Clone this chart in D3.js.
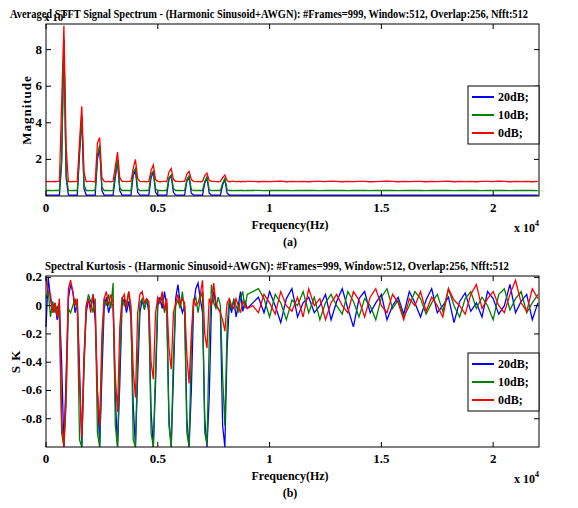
<!DOCTYPE html>
<html><head><meta charset="utf-8">
<script src="https://cdn.jsdelivr.net/npm/d3@7"></script>
<style>body{margin:0;background:#fff}</style>
</head><body><svg id="c" width="578" height="508" font-family="Liberation Serif, Times New Roman, serif" font-weight="bold"></svg>
<script>
// frequency grids (Hz)
var freqLow = d3.range(0, 9001, 100);
var freqHigh = d3.range(9250, 22001, 250);

// averaged STFT spectrum (magnitude, x 10^6)
var specRedLow = [0.78,0.8,0.79,0.8,0.78,0.8,0.8,
  5.1,9.3,2.7, 0.8,0.78,0.8,0.79,0.8, 3.0,4.9,1.3, 0.78,0.8,0.8,0.79,0.78,
  2.9,3.2,1.0, 0.8,0.79,0.8,0.78,0.8, 1.6,2.4,1.0, 0.8,0.8,0.79,0.8,0.8,
  1.5,2.0,0.95, 0.8,0.79,0.8,0.78,0.8, 1.4,1.7,0.9, 0.8,0.78,0.8,0.8,0.79,
  1.3,1.5,0.9, 0.8,0.8,0.79,0.8,0.8, 1.2,1.35,0.9, 0.8,0.79,0.8,0.78,0.8,
  1.1,1.25,0.85, 0.8,0.8,0.79,0.78,0.8, 1.0,1.15,0.85, 0.78,0.8,0.8,0.79,0.8,0.78,0.8,0.79,0.8];
var specGreenLow = [0.3,0.31,0.3,0.29,0.3,0.3,0.31,
  2.0,8.6,1.2, 0.3,0.29,0.3,0.31,0.3, 2.5,4.4,0.6, 0.3,0.3,0.29,0.3,0.31,
  2.2,2.8,0.5, 0.3,0.31,0.3,0.29,0.3, 1.2,2.0,0.45, 0.3,0.3,0.31,0.3,0.29,
  1.3,1.5,0.4, 0.3,0.29,0.3,0.3,0.31, 1.2,1.35,0.4, 0.3,0.3,0.29,0.31,0.3,
  1.0,1.15,0.4, 0.3,0.31,0.3,0.29,0.3, 0.9,1.1,0.35, 0.3,0.3,0.31,0.3,0.3,
  0.8,1.05,0.35, 0.29,0.3,0.3,0.31,0.3, 0.7,0.95,0.35, 0.3,0.3,0.29,0.3,0.31,0.3,0.3,0.29,0.3];
var specBlueLow = [0.05,0.05,0.05,0.05,0.05,0.05,0.05,
  1.8,8.5,1.0, 0.05,0.05,0.05,0.05,0.05, 2.3,4.3,0.4, 0.05,0.05,0.05,0.05,0.05,
  2.0,2.7,0.3, 0.05,0.05,0.05,0.05,0.05, 1.0,1.9,0.3, 0.05,0.05,0.05,0.05,0.05,
  1.1,1.4,0.2, 0.05,0.05,0.05,0.05,0.05, 1.0,1.3,0.2, 0.05,0.05,0.05,0.05,0.05,
  0.9,1.1,0.2, 0.05,0.05,0.05,0.05,0.05, 0.8,1.0,0.15, 0.05,0.05,0.05,0.05,0.05,
  0.7,1.0,0.15, 0.05,0.05,0.05,0.05,0.05, 0.6,0.9,0.15, 0.05,0.05,0.05,0.05,0.05,0.05,0.05,0.05,0.05];
var specRedHigh = [0.8,0.78,0.8,0.79,0.8,0.81,0.78,0.8,0.79,0.8,0.78,0.8,0.8,0.79,0.81,0.8,0.78,0.8,0.79,0.8,
  0.8,0.78,0.79,0.8,0.81,0.8,0.78,0.8,0.79,0.8,0.8,0.78,0.8,0.79,0.8,0.81,0.78,0.8,0.79,0.8,
  0.78,0.8,0.8,0.79,0.81,0.8,0.78,0.8,0.79,0.8,0.78,0.8];
var specGreenHigh = [0.3,0.31,0.29,0.3,0.3,0.31,0.3,0.29,0.3,0.31,0.3,0.3,0.29,0.3,0.31,0.3,0.3,0.29,0.3,0.31,
  0.3,0.29,0.3,0.31,0.3,0.3,0.29,0.3,0.31,0.3,0.3,0.29,0.3,0.31,0.3,0.3,0.29,0.3,0.31,0.3,
  0.3,0.29,0.3,0.31,0.3,0.3,0.29,0.3,0.31,0.3,0.3,0.29];
var specBlueHigh = [0.05,0.05,0.05,0.05,0.05,0.05,0.05,0.05,0.05,0.05,0.05,0.05,0.05,0.05,0.05,0.05,0.05,0.05,0.05,0.05,
  0.05,0.05,0.05,0.05,0.05,0.05,0.05,0.05,0.05,0.05,0.05,0.05,0.05,0.05,0.05,0.05,0.05,0.05,0.05,0.05,
  0.05,0.05,0.05,0.05,0.05,0.05,0.05,0.05,0.05,0.05,0.05,0.05];

// spectral kurtosis
var skBlueLow = [-0.15,0.2,0.05,-0.05,0.02,-0.1,0.0,-0.4,-1.0,-0.5,0.05,0.15,0.1,-0.05,0.02,-0.45,-1.0,-0.4,-0.05,0.05,
  -0.02,0.08,-0.1,-0.6,-1.0,-0.5,-0.02,0.06,-0.05,0.02,0.0,-0.65,-1.0,-0.55,0.0,0.05,-0.05,0.03,-0.08,-0.7,
  -1.0,-0.5,-0.05,0.04,-0.02,0.05,-0.05,-0.75,-1.0,-0.55,0.0,0.06,-0.02,0.1,0.0,-0.8,-1.0,-0.5,0.05,0.15,
  0.02,-0.05,0.0,-0.8,-1.0,-0.6,0.0,0.12,0.16,0.05,-0.05,-0.8,-1.0,-0.65,0.0,0.1,0.0,-0.02,-0.05,-0.85,
  -1.0,-0.3,0.02,-0.05,0.05,-0.08,0.0,0.1,-0.04,0.03,-0.02];
var skGreenLow = [0.05,0.1,-0.08,0.03,-0.05,0.0,-0.1,-0.9,-1.0,-0.7,-0.02,-0.05,0.0,0.05,-0.03,-0.95,-1.0,-0.45,0.0,0.08,
  0.03,-0.05,0.05,-0.9,-1.0,-0.35,0.05,0.0,0.08,-0.02,0.16,-0.85,-1.0,-0.4,0.06,0.0,0.02,0.1,-0.05,-0.95,
  -1.0,-0.35,0.02,0.05,-0.03,0.04,0.0,-0.9,-1.0,-0.45,0.05,0.02,0.06,-0.05,0.02,-0.85,-1.0,-0.35,0.0,0.04,
  -0.02,0.1,-0.05,-0.9,-1.0,-0.3,0.02,0.06,-0.05,0.05,0.1,-0.9,-0.98,-0.25,0.15,0.02,-0.02,0.06,0.0,-0.5,
  -0.85,-0.15,0.05,-0.02,0.04,0.0,-0.05,0.05,0.1,-0.02,0.08];
var skRedLow = [0.2,0.1,0.08,-0.05,0.02,-0.08,0.05,-0.8,-1.0,-0.6,0.12,0.18,0.1,0.0,0.05,-0.55,-0.93,-0.35,0.0,0.05,
  -0.05,0.08,0.0,-0.6,-0.85,-0.2,0.05,0.1,0.0,0.08,0.02,-0.5,-0.75,-0.15,0.05,0.08,-0.02,0.1,0.0,-0.45,
  -0.65,-0.05,0.08,0.1,0.02,0.05,0.03,-0.4,-0.52,-0.05,0.06,0.02,0.1,-0.03,0.05,-0.3,-0.45,-0.05,0.02,0.08,
  0.0,0.05,0.02,-0.35,-0.55,-0.2,0.05,0.0,0.02,0.08,0.18,-0.2,-0.3,0.05,0.0,0.16,0.02,-0.02,-0.05,-0.1,
  -0.18,0.02,0.05,0.0,-0.02,0.05,0.0,-0.05,0.03,0.0,-0.02];
var skBlueHigh = [0.02,0.06,-0.05,0.1,0.0,-0.12,0.05,0.12,-0.08,0.02,0.06,-0.05,0.0,0.08,-0.1,0.03,0.12,-0.02,-0.15,0.05,
  0.1,-0.05,0.02,0.08,-0.1,0.0,0.06,-0.06,0.1,0.02,-0.08,0.04,0.12,-0.05,0.0,0.06,-0.12,0.03,0.09,-0.04,
  0.02,-0.08,0.1,0.05,-0.06,0.0,0.15,-0.05,0.03,0.08,-0.1,0.02];
var skGreenHigh = [0.1,0.12,0.05,-0.08,0.08,0.02,-0.1,0.04,0.0,0.1,-0.05,0.06,-0.1,0.02,0.08,0.0,-0.06,0.1,0.03,-0.08,
  0.05,0.0,-0.1,0.06,0.12,-0.02,0.04,-0.08,0.0,0.1,0.05,-0.06,0.02,0.08,-0.04,0.12,0.0,-0.08,0.05,0.1,
  -0.02,0.06,0.0,-0.1,0.08,0.12,-0.03,0.05,0.1,-0.05,0.02,0.08];
var skRedHigh = [0.0,-0.05,0.08,0.02,-0.06,0.1,0.0,-0.04,0.06,-0.08,0.12,0.0,0.05,-0.1,0.02,0.08,0.0,-0.05,0.1,0.04,
  -0.08,0.06,0.12,0.0,-0.05,0.08,0.02,-0.1,0.05,0.0,0.1,-0.04,0.06,0.0,-0.08,0.12,0.04,0.0,-0.06,0.08,
  0.15,-0.02,0.05,0.1,0.0,-0.05,0.08,0.18,0.02,-0.04,0.12,0.05];

var legendLabels = ["20dB;", "10dB;", "0dB;"];
var colors = ["#0000ff", "#008000", "#ff0000"];
var xTicks = [0, 5000, 10000, 15000, 20000];
var specTicks = [2, 4, 6, 8];
var skTicks = [-0.8, -0.6, -0.4, -0.2, 0, 0.2];

var freqAll = freqLow.concat(freqHigh);
var svg = d3.select("#c");
var left = 46, right = 539;

function panel(cfg) {
  var x = d3.scaleLinear().domain([0, 22050]).range([left, right]);
  var y = d3.scaleLinear().domain(cfg.ydom).range([cfg.bottom, cfg.top]);
  var g = svg.append("g");
  var line = d3.line().x(function (d, i) { return x(freqAll[i]); }).y(function (d) { return y(d); });
  cfg.series.forEach(function (s, i) {
    g.append("path").attr("d", line(s)).attr("fill", "none")
      .attr("stroke", colors[i]).attr("stroke-width", 1.3);
  });
  g.append("rect").attr("x", left).attr("y", cfg.top).attr("width", right - left)
    .attr("height", cfg.bottom - cfg.top).attr("fill", "none").attr("stroke", "#000");
  var tl = 5;
  xTicks.forEach(function (t) {
    g.append("line").attr("x1", x(t)).attr("x2", x(t)).attr("y1", cfg.bottom).attr("y2", cfg.bottom - tl).attr("stroke", "#000");
    g.append("line").attr("x1", x(t)).attr("x2", x(t)).attr("y1", cfg.top).attr("y2", cfg.top + tl).attr("stroke", "#000");
    g.append("text").attr("x", x(t)).attr("y", cfg.bottom + 16).attr("text-anchor", "middle")
      .attr("font-size", 13).text(t / 10000);
  });
  cfg.yticks.forEach(function (t) {
    g.append("line").attr("x1", left).attr("x2", left + tl).attr("y1", y(t)).attr("y2", y(t)).attr("stroke", "#000");
    g.append("line").attr("x1", right).attr("x2", right - tl).attr("y1", y(t)).attr("y2", y(t)).attr("stroke", "#000");
    g.append("text").attr("x", left - 4).attr("y", y(t) + 4).attr("text-anchor", "end")
      .attr("font-size", 13).text(t);
  });
  g.append("text").attr("x", cfg.titleX).attr("y", cfg.top - 6)
    .attr("font-size", 12).attr("textLength", cfg.titleW).attr("lengthAdjust", "spacingAndGlyphs").text(cfg.title);
  g.append("text").attr("x", 290).attr("y", cfg.bottom + 33).attr("text-anchor", "middle")
    .attr("font-size", 12).text("Frequency(Hz)");
  g.append("text").attr("x", 290).attr("y", cfg.bottom + 50).attr("text-anchor", "middle")
    .attr("font-size", 12).text(cfg.sub);
  var ex = g.append("text").attr("x", 514).attr("y", cfg.bottom + 36).attr("font-size", 12);
  ex.append("tspan").text("x 10");
  ex.append("tspan").attr("dy", -6).attr("font-size", 8).text("4");
  g.append("text").attr("transform", "translate(" + cfg.ylabelX + "," + ((cfg.top + cfg.bottom) / 2) + ") rotate(-90)")
    .attr("text-anchor", "middle").attr("font-size", 13).attr("letter-spacing", 1).text(cfg.ylabel);
  var lg = g.append("g").attr("transform", "translate(468," + cfg.legY + ")");
  lg.append("rect").attr("width", 71).attr("height", 58).attr("fill", "#fff").attr("stroke", "#000");
  legendLabels.forEach(function (l, i) {
    var yy = 11 + i * 18;
    lg.append("line").attr("x1", 4).attr("x2", 26).attr("y1", yy).attr("y2", yy)
      .attr("stroke", colors[i]).attr("stroke-width", 2);
    lg.append("text").attr("x", 30).attr("y", yy + 4).attr("font-size", 12).text(l);
  });
  return g;
}

var top1 = panel({
  top: 24, bottom: 196, ydom: [0, 9.4], yticks: specTicks, legY: 86, titleX: 10, titleW: 518, ylabelX: 31,
  title: "Averaged STFT Signal Spectrum - (Harmonic Sinusoid+AWGN): #Frames=999, Window:512, Overlap:256, Nfft:512",
  sub: "(a)", ylabel: "Magnitude",
  series: [specBlueLow.concat(specBlueHigh), specGreenLow.concat(specGreenHigh), specRedLow.concat(specRedHigh)]
});
var e6 = top1.append("text").attr("x", 44).attr("y", 21).attr("font-size", 11);
e6.append("tspan").text("x 10");
e6.append("tspan").attr("dy", -5).attr("font-size", 8).text("6");

panel({
  top: 276, bottom: 447, ydom: [-1, 0.21], yticks: skTicks, legY: 353, titleX: 45, titleW: 464, ylabelX: 20,
  title: "Spectral Kurtosis - (Harmonic Sinusoid+AWGN): #Frames=999, Window:512, Overlap:256, Nfft:512",
  sub: "(b)", ylabel: "S K",
  series: [skBlueLow.concat(skBlueHigh), skGreenLow.concat(skGreenHigh), skRedLow.concat(skRedHigh)]
});
</script></body></html>
